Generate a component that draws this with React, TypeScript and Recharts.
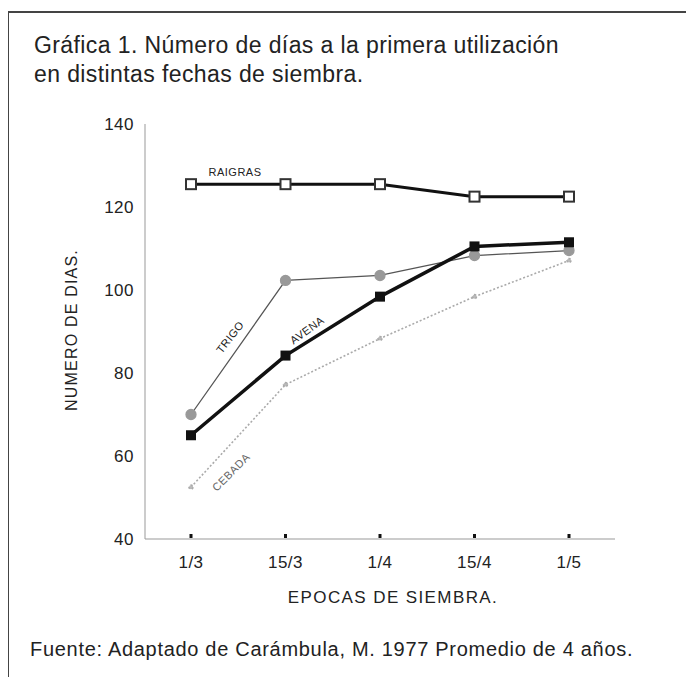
import { LineChart, Line, XAxis, YAxis } from "recharts";

const fechas = ["1/3", "15/3", "1/4", "15/4", "1/5"];
const raigras = [125.5, 125.5, 125.5, 122.5, 122.5];
const avena = [65, 84.2, 98.4, 110.5, 111.5];
const trigo = [70, 102.3, 103.5, 108.3, 109.5];
const cebada = [52.5, 77.2, 88.3, 98.4, 107.1];
const yTicks = [40, 60, 80, 100, 120, 140];

const data = fechas.map((f, i) => ({
  fecha: f,
  raigras: raigras[i],
  avena: avena[i],
  trigo: trigo[i],
  cebada: cebada[i],
}));

const FONT = "'Liberation Sans', Arial, sans-serif";

const XTick = (props: any) => {
  const { x, y, payload } = props;
  return (
    <g>
      <rect x={x - 1.5} y={y - 5} width={3} height={4} fill="#111" />
      <text x={x} y={y + 29} textAnchor="middle" fontSize={17} letterSpacing={0.5} fill="#222" fontFamily={FONT}>
        {payload.value}
      </text>
    </g>
  );
};

const OpenSquare = (props: any) => {
  const { cx, cy } = props;
  return <rect x={cx - 5} y={cy - 5} width={10} height={10} fill="#fff" stroke="#333" strokeWidth={2} />;
};

const FilledSquare = (props: any) => {
  const { cx, cy } = props;
  return <rect x={cx - 5} y={cy - 5} width={10} height={10} fill="#111" />;
};

const SeriesLabel = ({ text, x, y, angle, color = "#222" }: any) => (
  <div
    style={{
      position: "absolute",
      left: x,
      top: y,
      transform: `translate(-50%, -50%) rotate(${angle}deg)`,
      fontSize: 11,
      letterSpacing: 0.5,
      fontFamily: FONT,
      color,
      whiteSpace: "nowrap",
    }}
  >
    {text}
  </div>
);

export default function App() {
  return (
    <div style={{ position: "relative", width: 686, height: 677, background: "#fff", fontFamily: FONT, overflow: "hidden" }}>
      <style>{`body{margin:0}`}</style>
      <div style={{ position: "absolute", left: 8, top: 11, right: 0, bottom: 0, borderTop: "2px solid #444", borderLeft: "1.5px solid #444" }} />
      <div style={{ position: "absolute", left: 34, top: 31, fontSize: 23, letterSpacing: 0.4, lineHeight: "29px", color: "#222", whiteSpace: "nowrap" }}>
        Gráfica 1. Número de días a la primera utilización
        <br />
        en distintas fechas de siembra.
      </div>

      <div style={{ position: "absolute", left: 0, top: 0 }}>
        <LineChart width={686} height={677} data={data} margin={{ top: 124, right: 71, bottom: 98, left: 0 }}>
          <XAxis
            dataKey="fecha"
            padding={{ left: 46, right: 46 }}
            height={40}
            tickLine={false}
            tickSize={0}
            tickMargin={0}
            stroke="#999"
            tick={<XTick />}
            interval={0}
          />
          <YAxis
            width={145}
            domain={[40, 140]}
            ticks={yTicks}
            tickLine={false}
            tickSize={0}
            tickMargin={11}
            stroke="#999"
            tick={{ fontSize: 17, letterSpacing: 0.5, fill: "#222", fontFamily: FONT }}
          />
          <Line
            dataKey="cebada"
            stroke="#aaa"
            strokeWidth={1.6}
            strokeDasharray="2 2"
            dot={{ r: 2, fill: "#bbb", stroke: "#aaa" }}
            isAnimationActive={false}
          />
          <Line
            dataKey="trigo"
            stroke="#555"
            strokeWidth={1.3}
            dot={{ r: 5, fill: "#999", stroke: "#999" }}
            isAnimationActive={false}
          />
          <Line dataKey="avena" stroke="#111" strokeWidth={3.5} dot={<FilledSquare />} isAnimationActive={false} />
          <Line dataKey="raigras" stroke="#111" strokeWidth={3} dot={<OpenSquare />} isAnimationActive={false} />
        </LineChart>
      </div>

      <SeriesLabel text="RAIGRAS" x={235} y={172} angle={0} />
      <SeriesLabel text="TRIGO" x={230} y={337} angle={-52} />
      <SeriesLabel text="AVENA" x={307} y={330} angle={-36} />
      <SeriesLabel text="CEBADA" x={231} y={472} angle={-45} color="#666" />

      <div style={{ position: "absolute", left: 72, top: 330, transform: "translate(-50%, -50%) rotate(-90deg)", fontSize: 16, letterSpacing: 1.2, color: "#222", whiteSpace: "nowrap" }}>
        NUMERO DE DIAS.
      </div>
      <div style={{ position: "absolute", left: 393, top: 598, transform: "translate(-50%, -50%)", fontSize: 17, letterSpacing: 1.4, color: "#222", whiteSpace: "nowrap" }}>
        EPOCAS DE SIEMBRA.
      </div>
      <div style={{ position: "absolute", left: 30, top: 638, fontSize: 20, letterSpacing: 0.7, color: "#222", whiteSpace: "nowrap" }}>
        Fuente: Adaptado de Carámbula, M. 1977 Promedio de 4 años.
      </div>
    </div>
  );
}
